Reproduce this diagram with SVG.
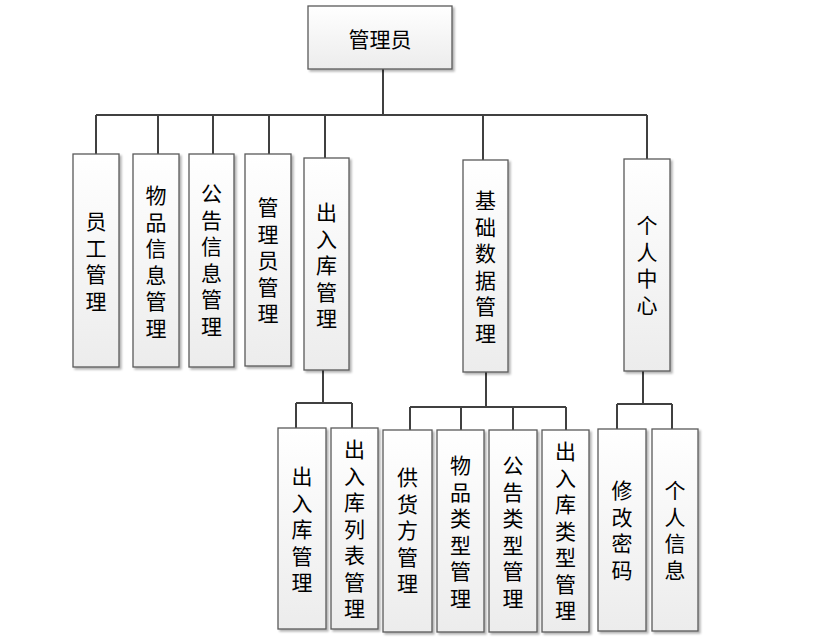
<svg xmlns="http://www.w3.org/2000/svg" width="824" height="643" viewBox="0 0 824 643">
<defs>
<linearGradient id="g" x1="0" y1="0" x2="0" y2="1">
<stop offset="0" stop-color="#ffffff"/>
<stop offset="1" stop-color="#ececec"/>
</linearGradient>
<filter id="sh" x="-20%" y="-20%" width="150%" height="150%">
<feDropShadow dx="2" dy="2" stdDeviation="1.2" flood-color="#000" flood-opacity="0.3"/>
</filter>
<style>
.b{fill:url(#g);stroke:#5a5a5a;stroke-width:1.3;filter:url(#sh)}
.t{font-family:"Noto Sans CJK SC","Noto Sans",sans-serif;font-size:21px;fill:#000;text-anchor:middle;dominant-baseline:central}
.c{stroke:#404040;stroke-width:2;fill:none}
</style>
</defs>
<rect width="824" height="643" fill="#fff"/>
<g id="connectors">
<path class="c" d="M383 69V115M96 115H647M96 115V154M158 115V154M213 115V154M269 115V154M325 115V158M483 115V160M647 115V159"/>
<path class="c" d="M323 370V403M296 403H352M296 403V428M352 403V428"/>
<path class="c" d="M486 372V407M410 407H566M410 407V432M461 407V430M513 407V430M566 407V430"/>
<path class="c" d="M643 371V404M617 404H672M617 404V429M672 404V429"/>
</g>
<g id="n-root"><rect class="b" x="308" y="6" width="144" height="63"/><text class="t" x="380" y="38">管理员</text></g>
<g id="n-yggl"><rect class="b" x="73" y="154" width="46" height="213"/><text class="t" x="96"><tspan x="96" y="220">员</tspan><tspan x="96" y="246.5">工</tspan><tspan x="96" y="273">管</tspan><tspan x="96" y="299.5">理</tspan></text></g>
<g id="n-wpxx"><rect class="b" x="133" y="154" width="46" height="213"/><text class="t"><tspan x="156" y="194">物</tspan><tspan x="156" y="220.5">品</tspan><tspan x="156" y="247">信</tspan><tspan x="156" y="273.5">息</tspan><tspan x="156" y="300">管</tspan><tspan x="156" y="326.5">理</tspan></text></g>
<g id="n-ggxx"><rect class="b" x="189" y="154" width="45" height="213"/><text class="t"><tspan x="211.5" y="192">公</tspan><tspan x="211.5" y="218.5">告</tspan><tspan x="211.5" y="245">信</tspan><tspan x="211.5" y="271.5">息</tspan><tspan x="211.5" y="298">管</tspan><tspan x="211.5" y="324.5">理</tspan></text></g>
<g id="n-glygl"><rect class="b" x="245" y="154" width="46" height="212"/><text class="t"><tspan x="268" y="206">管</tspan><tspan x="268" y="232.5">理</tspan><tspan x="268" y="259">员</tspan><tspan x="268" y="285.5">管</tspan><tspan x="268" y="312">理</tspan></text></g>
<g id="n-crk"><rect class="b" x="304" y="158" width="45" height="212"/><text class="t"><tspan x="326.5" y="211">出</tspan><tspan x="326.5" y="237.5">入</tspan><tspan x="326.5" y="264">库</tspan><tspan x="326.5" y="290.5">管</tspan><tspan x="326.5" y="317">理</tspan></text></g>
<g id="n-jcsj"><rect class="b" x="463" y="160" width="45" height="212"/><text class="t"><tspan x="485.5" y="199">基</tspan><tspan x="485.5" y="225.5">础</tspan><tspan x="485.5" y="252">数</tspan><tspan x="485.5" y="278.5">据</tspan><tspan x="485.5" y="305">管</tspan><tspan x="485.5" y="331.5">理</tspan></text></g>
<g id="n-grzx"><rect class="b" x="624" y="159" width="46" height="212"/><text class="t"><tspan x="647" y="224">个</tspan><tspan x="647" y="250.5">人</tspan><tspan x="647" y="277">中</tspan><tspan x="647" y="303.5">心</tspan></text></g>
<g id="n-crkgl"><rect class="b" x="278" y="428" width="48" height="201"/><text class="t"><tspan x="302" y="475">出</tspan><tspan x="302" y="501.5">入</tspan><tspan x="302" y="528">库</tspan><tspan x="302" y="554.5">管</tspan><tspan x="302" y="581">理</tspan></text></g>
<g id="n-crklb"><rect class="b" x="331" y="428" width="47" height="201"/><text class="t"><tspan x="354.5" y="448">出</tspan><tspan x="354.5" y="474.5">入</tspan><tspan x="354.5" y="501">库</tspan><tspan x="354.5" y="527.5">列</tspan><tspan x="354.5" y="554">表</tspan><tspan x="354.5" y="580.5">管</tspan><tspan x="354.5" y="607">理</tspan></text></g>
<g id="n-ghf"><rect class="b" x="383" y="430" width="49" height="202"/><text class="t"><tspan x="407.5" y="476">供</tspan><tspan x="407.5" y="502.5">货</tspan><tspan x="407.5" y="529">方</tspan><tspan x="407.5" y="555.5">管</tspan><tspan x="407.5" y="582">理</tspan></text></g>
<g id="n-wplx"><rect class="b" x="437" y="430" width="47" height="202"/><text class="t"><tspan x="460.5" y="464">物</tspan><tspan x="460.5" y="490.5">品</tspan><tspan x="460.5" y="517">类</tspan><tspan x="460.5" y="543.5">型</tspan><tspan x="460.5" y="570">管</tspan><tspan x="460.5" y="596.5">理</tspan></text></g>
<g id="n-gglx"><rect class="b" x="489" y="430" width="48" height="202"/><text class="t"><tspan x="513" y="464">公</tspan><tspan x="513" y="490.5">告</tspan><tspan x="513" y="517">类</tspan><tspan x="513" y="543.5">型</tspan><tspan x="513" y="570">管</tspan><tspan x="513" y="596.5">理</tspan></text></g>
<g id="n-crklx"><rect class="b" x="542" y="430" width="47" height="202"/><text class="t"><tspan x="565.5" y="450">出</tspan><tspan x="565.5" y="476.5">入</tspan><tspan x="565.5" y="503">库</tspan><tspan x="565.5" y="529.5">类</tspan><tspan x="565.5" y="556">型</tspan><tspan x="565.5" y="582.5">管</tspan><tspan x="565.5" y="609">理</tspan></text></g>
<g id="n-xgmm"><rect class="b" x="598" y="429" width="48" height="202"/><text class="t"><tspan x="622" y="489">修</tspan><tspan x="622" y="515.5">改</tspan><tspan x="622" y="542">密</tspan><tspan x="622" y="568.5">码</tspan></text></g>
<g id="n-grxx"><rect class="b" x="652" y="429" width="46" height="202"/><text class="t"><tspan x="675" y="489">个</tspan><tspan x="675" y="515.5">人</tspan><tspan x="675" y="542">信</tspan><tspan x="675" y="568.5">息</tspan></text></g>
</svg>
